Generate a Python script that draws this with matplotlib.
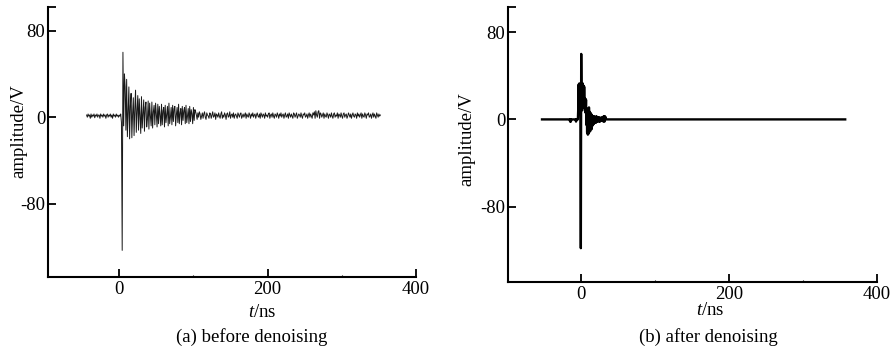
import numpy as np
import matplotlib
matplotlib.use('Agg')
import matplotlib.pyplot as plt

plt.rcParams['font.family'] = ['Liberation Serif', 'DejaVu Serif']
plt.rcParams['mathtext.fontset'] = 'custom'
plt.rcParams['mathtext.it'] = 'Liberation Serif:italic'
plt.rcParams['mathtext.rm'] = 'Liberation Serif'

# (a) raw signal, 1 ns sampling starting at t = -44 ns
t0_a = -44
pre_a = [2, 0, 3, 1, 2, -1, 3, 0, 2, 1,
         3, -0.5, 2, 1, 3, 0, 2, 2, -1, 3,
         1, 2, 0, 3, 1, 2, -1, 2, 3, 0,
         2, 1, 3, 0, 2, -1, 3, 1, 2, 0,
         3, 1, 2, 0, 2, 1, 3]
burst_a = [-5, -123, 60, -8, 40, 28, -12, 35, -18, 5,
           28, -20, 10, 22, -19, 3, 18, -17, 8, 25,
           -14, 6, 20, -12, 17, 2, -15, 19, -10, 4,
           16, -13, 9, 14, -9, -2, 15, -11, 13, 1,
           -8, 14, -10, 5, 11, -7, 13, 3, -9, 12,
           -6, 10, 2, -8, 12, -7, 6, 9, -9, 11,
           -5, 3, 10, -8, 13, -6, 0, 9, -7, 11,
           -4, 8, 10, -8, 2, 9, -5, 12, -6, 4,
           8, -7, 10, -3, 6, 9, -6, 11, -5, 1,
           8, -6, 10, -4, 7, 3, -6, 9, -3, 7]
tail_a = [5, 2, -2, 4, 0, 5, 3, -2, 1, 4,
          -1, 3, 5, 0, -2, 4, 2, 1, -1, 4,
          3, -1, 2, 5, 0, 1, 4, -2, 3, 2,
          0, 4, 1, -1, 3, 5, -1, 2, 0, 4,
          2, -2, 3, 4, 0, 1, 5, -1, 2, 3,
          0, 4, -1, 2, 3, 1, -1, 4, 2, 0,
          3, 4, -1, 1, 3, 0, 2, 4, -1, 3,
          1, 0, 4, 2, -1, 3, 1, 4, 0, 2,
          3, -1, 2, 4, 1, 0, 3, -1, 4, 2,
          0, 3, 2, -1, 4, 1, 2, 0, 3, 4,
          -1, 2, 3, 0, 4, 1, -1, 3, 2, 0,
          4, 2, -1, 3, 1, 4, 0, 2, 3, -1,
          2, 4, 0, 1, 3, -1, 4, 2, 0, 3,
          1, -1, 4, 3, 0, 2, 4, -1, 1, 3,
          2, 0, 4, 1, -1, 3, 2, 4, 0, 1,
          3, -1, 2, 4, 0, 3, 1, -1, 4, 2,
          5, -1, 6, 2, 0, 5, 6, -1, 4, 3,
          0, 2, 4, -1, 3, 1, 0, 4, 2, -1,
          3, 2, 0, 4, 1, -1, 3, 4, 0, 2,
          1, 4, -1, 3, 2, 0, 4, 1, -1, 3,
          4, 0, 2, 3, -1, 1, 4, 2, 0, 3,
          -1, 2, 4, 1, 0, 3, 2, -1, 4, 1,
          3, 0, 2, 4, -1, 3, 1, 0, 4, 2,
          -1, 3, 2, 4, 0, 1, 3, -1, 2, 4,
          0, 3, 1, -1, 4, 2, 0, 3, 1, 2]
amp_a = np.array(pre_a + burst_a + tail_a, dtype=float)
t_a = t0_a + np.arange(len(amp_a))

# (b) denoised signal, 0.5 ns sampling around the pulse, flat elsewhere
t0_b = -16
pulse_b = [0, 0, -2, 0, -2, 0, 0, 0, 0, 0,
           0, 0, 0, 0, 0, 0, 0, 0, -2, 0,
           0, 0, 0, 0, 10, 32, 8, 33, 6, 32,
           10, -118, 60, 8, 32, 10, 33, 12, 31, 14,
           30, 18, 8, 19, 6, 18, -5, 10, -12, 8,
           -14, 9, -13, 11, -10, 7, -11, 6, -8, 5,
           -9, 4, -6, 3, -5, 2, -4, 3, -3, 2,
           -3, 1, -3, 3, -2, 1, -2, 2, -1, 0,
           -2, 2, 0, -2, 1, 0, -1, 2, 0, -1,
           0, 1, -2, 3, 0, -2, 3, 0, 2, 0,
           0, 0, 0]
t_pulse_b = t0_b + 0.5 * np.arange(len(pulse_b))
t_b = np.concatenate([[-53], t_pulse_b, [357]])
amp_b = np.concatenate([[0], pulse_b, [0]])

xticks = [0, 200, 400]
xticklabels = ['0', '200', '400']
yticks = [-80, 0, 80]
yticklabels = ['-80', '0', '80']

fig = plt.figure(figsize=(8.95, 3.51), dpi=100)
ax1 = fig.add_axes([48/895, 74/351, 368/895, 270/351])
ax2 = fig.add_axes([508/895, 69/351, 369/895, 275/351])

ax1.plot(t_a, amp_a, color='0.1', linewidth=0.7)
ax2.plot(t_b, amp_b, color='black', linewidth=1.7)

settings = [
    (ax1, (-96, 400), (-147.6, 101.8), (0.582, -0.13), (-0.079, 0.54), (0.554, -0.222), '(a) before denoising'),
    (ax2, (-99, 400), (-149, 103), (0.547, -0.102), (-0.111, 0.52), (0.542, -0.2), '(b) after denoising'),
]
for ax, xl, yl, xlab, ylab, cap, caption in settings:
    ax.set_xlim(*xl)
    ax.set_ylim(*yl)
    for s in ['top', 'right']:
        ax.spines[s].set_visible(False)
    for s in ['left', 'bottom']:
        ax.spines[s].set_linewidth(1.5)
    ax.set_xticks(xticks)
    ax.set_xticklabels(xticklabels)
    ax.set_xticks([100, 300], minor=True)
    ax.set_yticks(yticks + [yl[1]])
    ax.set_yticklabels(yticklabels + [''])
    ax.tick_params(axis='both', which='major', direction='in', length=5.5, width=1.3,
                   labelsize=13.5, color='black')
    ax.tick_params(axis='x', which='major', pad=3)
    ax.tick_params(axis='y', which='major', pad=2)
    ax.tick_params(axis='x', which='minor', direction='in', length=1.5, width=0.8)
    ax.set_xlabel('$t$/ns', fontsize=13.5, va='center')
    ax.xaxis.set_label_coords(*xlab)
    ax.set_ylabel('amplitude/V', fontsize=13.5, va='center')
    ax.yaxis.set_label_coords(*ylab)
    ax.text(cap[0], cap[1], caption, transform=ax.transAxes, fontsize=13.5,
            ha='center', va='center')

fig.savefig('out.png', dpi=100)
